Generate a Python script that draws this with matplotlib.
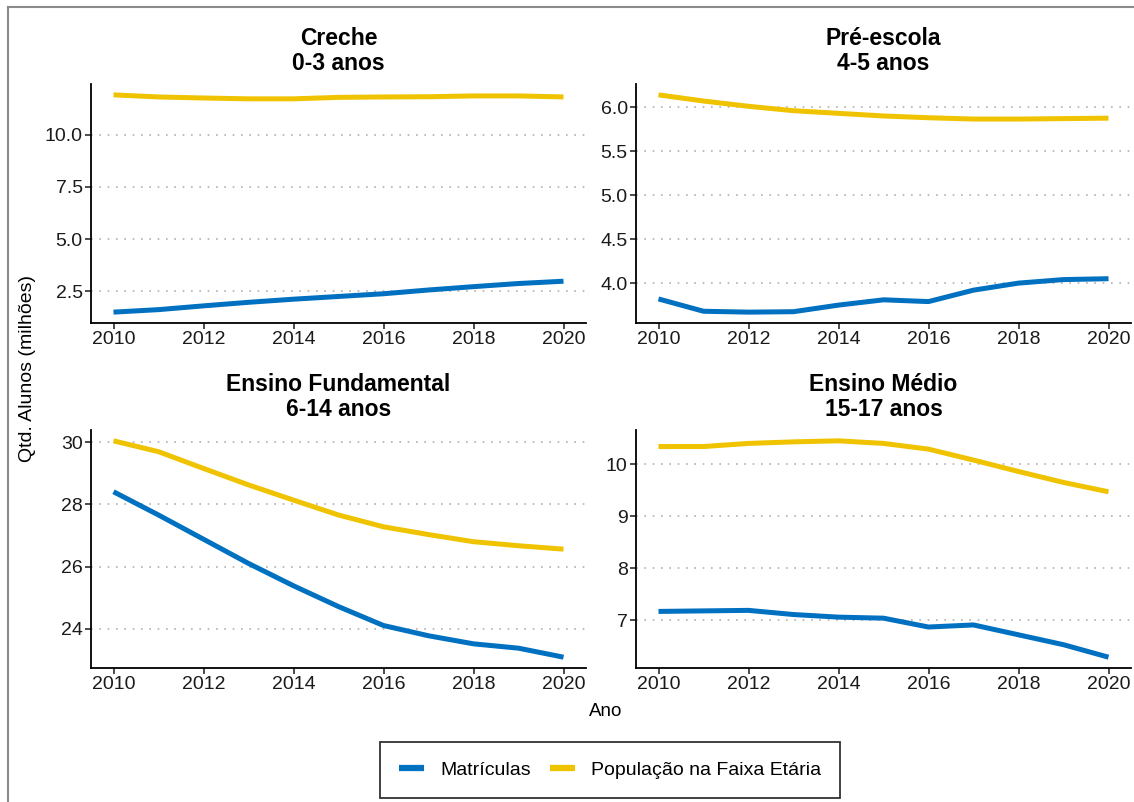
import matplotlib.pyplot as plt
from matplotlib.lines import Line2D

plt.rcParams['font.family'] = ['Liberation Sans', 'DejaVu Sans']

anos = list(range(2010, 2021))

titulos = ["Creche\n0-3 anos", "Pré-escola\n4-5 anos",
           "Ensino Fundamental\n6-14 anos", "Ensino Médio\n15-17 anos"]

creche_mat = [1.50, 1.62, 1.80, 1.97, 2.12, 2.25, 2.38, 2.56, 2.72, 2.87, 2.98]
creche_pop = [11.90, 11.80, 11.75, 11.71, 11.71, 11.78, 11.80, 11.81, 11.85, 11.85, 11.80]

pre_mat = [3.82, 3.68, 3.67, 3.675, 3.75, 3.81, 3.79, 3.92, 4.00, 4.04, 4.05]
pre_pop = [6.14, 6.07, 6.01, 5.96, 5.93, 5.90, 5.88, 5.865, 5.865, 5.87, 5.875]

fund_mat = [28.41, 27.66, 26.88, 26.10, 25.38, 24.71, 24.10, 23.77, 23.51, 23.37, 23.08]
fund_pop = [30.05, 29.70, 29.16, 28.63, 28.14, 27.66, 27.28, 27.03, 26.80, 26.67, 26.56]

medio_mat = [7.17, 7.18, 7.19, 7.11, 7.06, 7.04, 6.87, 6.91, 6.72, 6.53, 6.29]
medio_pop = [10.34, 10.34, 10.40, 10.43, 10.45, 10.40, 10.29, 10.08, 9.86, 9.65, 9.47]

matriculas = [creche_mat, pre_mat, fund_mat, medio_mat]
populacao = [creche_pop, pre_pop, fund_pop, medio_pop]

yticks = [[2.5, 5.0, 7.5, 10.0],
          [4.0, 4.5, 5.0, 5.5, 6.0],
          [24, 26, 28, 30],
          [7, 8, 9, 10]]
yfmt = ["{:.1f}", "{:.1f}", "{:.0f}", "{:.0f}"]

azul = "#0070C0"
amarelo = "#F0C300"

W, H = 1134, 802
fig = plt.figure(figsize=(W / 100, H / 100), dpi=100)

# panel boxes in pixels: left, top, right, bottom
caixas = [(91, 84, 586, 323), (636, 84, 1131, 323),
          (91, 430, 586, 668), (636, 430, 1131, 668)]

for i, (l, t, r, b) in enumerate(caixas):
    ax = fig.add_axes([l / W, 1 - b / H, (r - l) / W, (b - t) / H])
    ax.plot(anos, matriculas[i], color=azul, lw=3.6, solid_capstyle='butt',
            label="Matrículas")
    ax.plot(anos, populacao[i], color=amarelo, lw=3.6, solid_capstyle='butt',
            label="População na Faixa Etária")
    ax.margins(x=0.05, y=0.05)
    ax.set_xticks([2010, 2012, 2014, 2016, 2018, 2020])
    ax.set_yticks(yticks[i])
    ax.set_yticklabels([yfmt[i].format(v) for v in yticks[i]])
    ax.grid(axis='y', color='#b0b0b0', linestyle=(0, (1, 4)), lw=1.2)
    ax.set_axisbelow(True)
    for s in ['top', 'right']:
        ax.spines[s].set_visible(False)
    for s in ['left', 'bottom']:
        ax.spines[s].set_linewidth(1.3)
    ax.tick_params(labelsize=14, colors='#1a1a1a', length=4, width=1.1, pad=2)
    ax.set_title(titulos[i], fontsize=16.5, fontweight='bold', pad=10,
                 linespacing=1.12)
    if i == 0:
        handles, labels = ax.get_legend_handles_labels()

fig.text(28 / W, 1 - 368 / H, "Qtd. Alunos (milhões)", rotation=90,
         ha='center', va='center', fontsize=14)
fig.text(606 / W, 1 - 711 / H, "Ano", ha='center', va='center', fontsize=13.5)

leg = fig.legend(handles, labels, loc='center', ncol=2,
                 bbox_to_anchor=(610 / W, 1 - 770 / H), fontsize=14,
                 frameon=True, fancybox=False, edgecolor='black',
                 handlelength=1.3, handletextpad=0.8, columnspacing=1.0,
                 borderpad=1.0)
leg.get_frame().set_linewidth(1.3)
for ln in leg.get_lines():
    ln.set_linewidth(4.5)

# thin grey frame on the top and left edges
fig.add_artist(Line2D([8 / W, 1], [1 - 7 / H, 1 - 7 / H], color='#8a8a8a',
                      lw=1.5, transform=fig.transFigure))
fig.add_artist(Line2D([8 / W, 8 / W], [0, 1 - 7 / H], color='#8a8a8a',
                      lw=1.5, transform=fig.transFigure))

fig.savefig("out.png", dpi=100)
